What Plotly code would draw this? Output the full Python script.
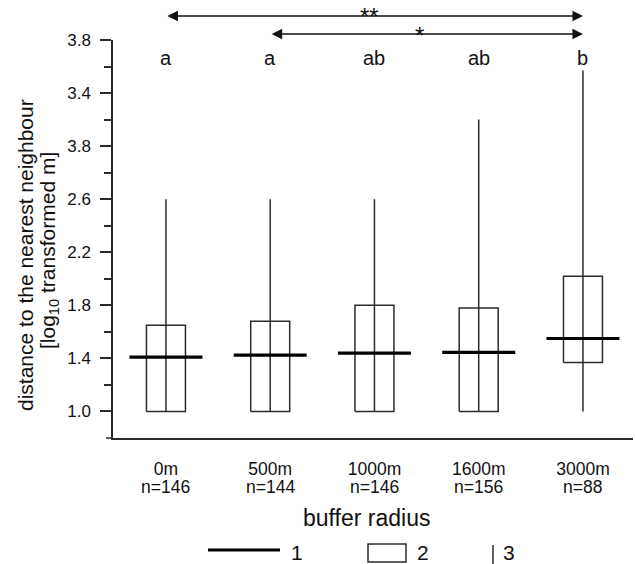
import plotly.graph_objects as go

# ---- data ----
categories = ["0m", "500m", "1000m", "1600m", "3000m"]
n_values = [146, 144, 146, 156, 88]
q1 = [1.0, 1.0, 1.0, 1.0, 1.37]
median = [1.41, 1.425, 1.44, 1.445, 1.55]
q3 = [1.65, 1.68, 1.80, 1.78, 2.02]
whisker_low = [1.0, 1.0, 1.0, 1.0, 1.0]
whisker_high = [2.6, 2.6, 2.6, 3.2, 3.57]
letters = ["a", "a", "ab", "ab", "b"]
ytick_vals = [1.0, 1.4, 1.8, 2.2, 2.6, 3.0, 3.4, 3.8]
ytick_text = ["1.0", "1.4", "1.8", "2.2", "2.6", "3.8", "3.4", "3.8"]
yminor_vals = [1.2, 1.6, 2.0, 2.4, 2.8, 3.2, 3.6]
comparisons = [(0, 4, "**"), (1, 4, "*")]

FONT = "Arial, Liberation Sans, sans-serif"
LINE = "#2b2b2b"
TXT = "#111111"

BOX_HALF = 0.187
MED_HALF = 0.35

xs = list(range(len(categories)))

# plot area in pixels (for paper-referenced decorations)
L, R, T, B = 113, 633, 40, 438
W, H = 635, 564


def px(x):
    return (x - L) / (R - L)


def py(y):
    return (B - y) / (B - T)


box_x, box_y, wh_x, wh_y, md_x, md_y = [], [], [], [], [], []
for i in xs:
    box_x += [i - BOX_HALF, i + BOX_HALF, i + BOX_HALF, i - BOX_HALF, i - BOX_HALF, None]
    box_y += [q1[i], q1[i], q3[i], q3[i], q1[i], None]
    wh_x += [i, i, None]
    wh_y += [whisker_low[i], whisker_high[i], None]
    md_x += [i - MED_HALF, i + MED_HALF, None]
    md_y += [median[i], median[i], None]

fig = go.Figure()
fig.add_trace(go.Scatter(x=wh_x, y=wh_y, mode="lines", line=dict(color=LINE, width=1.5),
                         hoverinfo="skip", showlegend=False))
fig.add_trace(go.Scatter(x=box_x, y=box_y, mode="lines", line=dict(color=LINE, width=1.5),
                         hoverinfo="skip", showlegend=False))
fig.add_trace(go.Scatter(x=md_x, y=md_y, mode="lines", line=dict(color="#000000", width=3.2),
                         hoverinfo="skip", showlegend=False))

annotations = []
# significance letters
for i in xs:
    annotations.append(dict(x=i, y=3.665, xref="x", yref="y", text=letters[i], showarrow=False,
                            font=dict(family=FONT, size=20, color=TXT)))
# comparison arrows (above the plot area)
arrow_py = [16, 34]
star_x = [1.95, 2.43]
for k, (a, b, s) in enumerate(comparisons):
    annotations.append(dict(x=b, y=py(arrow_py[k]), ax=a, ay=0, xref="x", yref="paper",
                            axref="x", ayref="pixel", text="", showarrow=True, arrowhead=2,
                            startarrowhead=2, arrowside="end+start", arrowwidth=1.4,
                            arrowsize=1.5, startarrowsize=1.5, arrowcolor="#111"))
    annotations.append(dict(x=star_x[k], y=py(arrow_py[k] + 1), xref="x", yref="paper", text=s,
                            showarrow=False, yanchor="middle",
                            font=dict(family=FONT, size=24, color=TXT)))
# n labels
for i in xs:
    annotations.append(dict(x=i, y=py(487), xref="x", yref="paper", text=f"n={n_values[i]}",
                            showarrow=False, yanchor="middle",
                            font=dict(family=FONT, size=17.5, color=TXT)))
# axis titles
annotations.append(dict(x=px(366), y=py(518), xref="paper", yref="paper", text="buffer radius",
                        showarrow=False, yanchor="middle",
                        font=dict(family=FONT, size=23, color=TXT)))
annotations.append(dict(x=px(26), y=py(255), xref="paper", yref="paper",
                        text="distance to the nearest neighbour", textangle=-90,
                        showarrow=False, xanchor="center", yanchor="middle",
                        font=dict(family=FONT, size=21, color=TXT)))
annotations.append(dict(x=px(49), y=py(251), xref="paper", yref="paper",
                        text="[log<sub>10</sub> transformed m]", textangle=-90,
                        showarrow=False, xanchor="center", yanchor="middle",
                        font=dict(family=FONT, size=21, color=TXT)))
# legend texts
for lx, t in [(297, "1"), (423, "2"), (509, "3")]:
    annotations.append(dict(x=px(lx), y=py(552), xref="paper", yref="paper", text=t,
                            showarrow=False, xanchor="center", yanchor="middle",
                            font=dict(family=FONT, size=21, color=TXT)))

shapes = [
    # x axis line extension to the left of the y axis
    dict(type="line", xref="paper", yref="paper", x0=px(106), x1=px(113), y0=0, y1=0,
         line=dict(color=LINE, width=1.5)),
    # legend symbols
    dict(type="line", xref="paper", yref="paper", x0=px(208), x1=px(280), y0=py(550), y1=py(550),
         line=dict(color="#000", width=3)),
    dict(type="rect", xref="paper", yref="paper", x0=px(368), x1=px(406), y0=py(562), y1=py(544),
         line=dict(color=LINE, width=1.5)),
    dict(type="line", xref="paper", yref="paper", x0=px(493), x1=px(493), y0=py(565), y1=py(545),
         line=dict(color=LINE, width=1.5)),
]

fig.update_layout(
    width=W, height=H,
    margin=dict(l=L, r=W - R, t=T, b=H - B),
    paper_bgcolor="white", plot_bgcolor="white",
    font=dict(family=FONT, size=16, color=TXT),
    showlegend=False,
    annotations=annotations,
    shapes=shapes,
    xaxis=dict(range=[-0.508, 4.48], tickvals=xs, ticktext=categories, showline=True,
               linecolor=LINE, linewidth=1.5, ticks="", showgrid=False, zeroline=False,
               ticklabelstandoff=14, tickfont=dict(family=FONT, size=17.5, color=TXT)),
    yaxis=dict(range=[0.8, 3.8], tickvals=ytick_vals, ticktext=ytick_text, showline=True,
               linecolor=LINE, linewidth=1.5, ticks="outside", ticklen=11, tickwidth=1.5,
               tickcolor=LINE, showgrid=False, zeroline=False, ticklabelstandoff=6,
               tickfont=dict(family=FONT, size=17, color=TXT),
               minor=dict(tickvals=yminor_vals, ticks="outside", ticklen=7, tickwidth=1.5,
                          tickcolor=LINE, showgrid=False)),
)

fig.write_html("out.html", config={"displayModeBar": False},
               post_script="document.body.style.margin='0';")
